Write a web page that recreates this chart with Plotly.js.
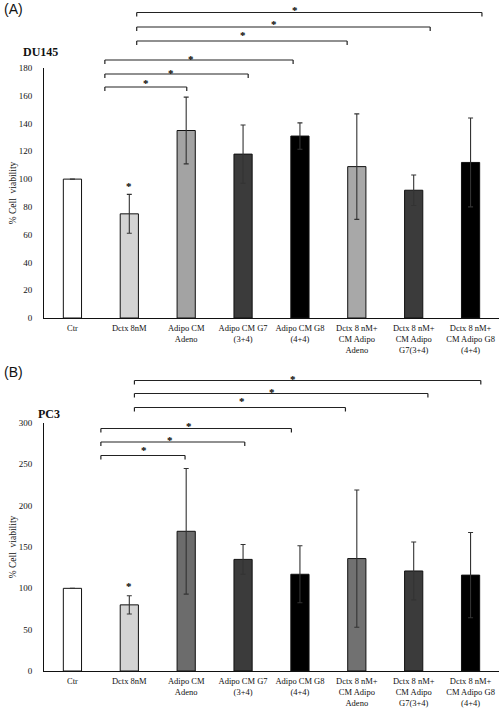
<!DOCTYPE html>
<html><head><meta charset="utf-8">
<script src="https://cdn.plot.ly/plotly-3.0.1.min.js"></script>
<style>html,body{margin:0;padding:0;background:#fff}#chart{width:500px;height:709px}</style>
</head><body><div id="chart"></div>
<script>
// ---- data ----
const categories = [
  "Ctr",
  "Dctx 8nM",
  "Adipo CM<br>Adeno",
  "Adipo CM G7<br>(3+4)",
  "Adipo CM G8<br>(4+4)",
  "Dctx 8 nM+<br>CM Adipo<br>Adeno",
  "Dctx 8 nM+<br>CM Adipo<br>G7(3+4)",
  "Dctx 8 nM+<br>CM Adipo G8<br>(4+4)"
];
const du145Values = [100, 75, 135, 118, 131, 109, 92, 112];
const du145Errors = [0, 14, 24, 21, 9.5, 38, 11, 32];
const pc3Values = [100, 80, 169, 135, 117, 136, 121, 116];
const pc3Errors = [0, 11, 76, 18, 34.5, 83, 35, 51.5];
const du145Ticks = [0, 20, 40, 60, 80, 100, 120, 140, 160, 180];
const pc3Ticks = [0, 50, 100, 150, 200, 250, 300];
const panelNames = ["DU145", "PC3"];
const panelLetters = ["(A)", "(B)"];
const yTitle = "% Cell  viability";
// significance brackets: comparison of Dctx 8nM (index 1) vs groups
const sigFrom = [1, 1, 1, 1, 1, 1];
const sigTo = [2, 3, 4, 5, 6, 7];

// ---- styles / geometry ----
const W = 500, H = 709, ML = 44, MR = 1, MT = 68, MB = 38;
const PW = W - ML - MR, PH = H - MT - MB;
const topBox = [68, 318], botBox = [423, 671];
const py = y => (H - MB - y) / PH;             // pixel y -> paper
const dom = b => [py(b[1]), py(b[0])];
const catDom = c => (c + 0.5) / categories.length;

const topColors = ["#ffffff", "#d4d4d4", "#a3a3a3", "#3b3b3b", "#000000", "#a8a8a8", "#3b3b3b", "#000000"];
const botColors = ["#ffffff", "#d4d4d4", "#6c6c6c", "#3b3b3b", "#000000", "#717171", "#3b3b3b", "#000000"];
const serif = "Liberation Serif, Times New Roman, serif";

// bracket drawing positions (category units, pixel heights)
const bracketStyle = {
  top: {
    left: [0.57, 0.57, 0.57, 1.13, 1.13, 1.13],
    right: [2.01, 3.09, 3.88, 4.83, 6.29, 7.20],
    y: [87, 74, 60, 41, 27, 12.5],
    starX: [146, 171, 190.7, 243, 274, 295],
    starY: [80, 70, 56, 32, 21, 7.3]
  },
  bot: {
    left: [0.50, 0.50, 0.50, 1.09, 1.09, 1.09],
    right: [1.98, 3.03, 3.85, 4.80, 6.25, 7.18],
    y: [455.5, 442, 428.5, 407.5, 393.5, 380.5],
    starX: [143.5, 169.5, 188.5, 242.3, 272.3, 293.3],
    starY: [447.3, 436.7, 423, 398.3, 389, 375.7]
  }
};

function barTrace(vals, errs, colors, xa, ya) {
  return {
    type: "bar", x: categories, y: vals, xaxis: xa, yaxis: ya,
    width: 0.32,
    marker: {color: colors, line: {color: "#111", width: 1}},
    error_y: {type: "data", array: errs, visible: true, color: "#333", thickness: 1.1, width: 2.5},
    hoverinfo: "x+y", showlegend: false
  };
}

const data = [
  barTrace(du145Values, du145Errors, topColors, "x", "y"),
  barTrace(pc3Values, pc3Errors, botColors, "x2", "y2")
];

const tickFont = {family: serif, size: 8.5, color: "#111"};
function xAxis(anchor) {
  return {
    type: "category", range: [-0.5, categories.length - 0.5], anchor: anchor,
    showline: true, linecolor: "#111", linewidth: 1, ticks: "", showgrid: false,
    zeroline: false, tickfont: tickFont, ticklabelstandoff: 2, automargin: false,
    fixedrange: true, tickangle: 0
  };
}
function yAxis(anchor, domain, range, ticks) {
  return {
    domain: domain, range: range, anchor: anchor, tickvals: ticks,
    showline: true, linecolor: "#111", linewidth: 1, ticks: "", showgrid: false,
    zeroline: false, tickfont: {family: serif, size: 9, color: "#111"}, ticklabelstandoff: 9, automargin: false,
    title: {text: yTitle, font: {family: serif, size: 9.5, color: "#111"}, standoff: 0},
    fixedrange: true
  };
}

const shapes = [];
const annotations = [];
const tick = 4 / PH;
function addBrackets(st, xref) {
  for (let i = 0; i < sigFrom.length; i++) {
    const x1 = catDom(st.left[i]), x2 = catDom(st.right[i]), y = py(st.y[i]);
    const line = {color: "#222", width: 1.2};
    shapes.push({type: "line", xref: xref + " domain", yref: "paper", x0: x1, x1: x2, y0: y, y1: y, line});
    shapes.push({type: "line", xref: xref + " domain", yref: "paper", x0: x1, x1: x1, y0: y, y1: y - tick, line});
    shapes.push({type: "line", xref: xref + " domain", yref: "paper", x0: x2, x1: x2, y0: y, y1: y - tick, line});
    annotations.push({
      text: "<b>*</b>", xref: "paper", yref: "paper", x: (st.starX[i] - ML) / PW, y: py(st.starY[i] + 3),
      xanchor: "center", yanchor: "middle", showarrow: false,
      font: {family: serif, size: 11, color: "#000"}
    });
  }
}
addBrackets(bracketStyle.top, "x");
addBrackets(bracketStyle.bot, "x2");

// star above the Dctx bar
annotations.push({text: "<b>*</b>", xref: "x", yref: "y", x: categories[1], y: du145Values[1] + du145Errors[1],
  yanchor: "bottom", yshift: 0, showarrow: false, font: {family: serif, size: 11, color: "#000"}});
annotations.push({text: "<b>*</b>", xref: "x2", yref: "y2", x: categories[1], y: pc3Values[1] + pc3Errors[1],
  yanchor: "bottom", yshift: 2, showarrow: false, font: {family: serif, size: 11, color: "#000"}});

// panel letters and cell-line names
annotations.push({text: panelLetters[0], xref: "paper", yref: "paper", x: (2 - ML) / PW, y: py(9),
  xanchor: "left", yanchor: "middle", showarrow: false, font: {family: "Liberation Sans, Arial, sans-serif", size: 14, color: "#111"}});
annotations.push({text: panelLetters[1], xref: "paper", yref: "paper", x: (2 - ML) / PW, y: py(372),
  xanchor: "left", yanchor: "middle", showarrow: false, font: {family: "Liberation Sans, Arial, sans-serif", size: 14, color: "#111"}});
annotations.push({text: "<b>" + panelNames[0] + "</b>", xref: "paper", yref: "paper", x: (21 - ML) / PW, y: py(52),
  xanchor: "left", yanchor: "middle", showarrow: false, font: {family: serif, size: 12, color: "#111"}});
annotations.push({text: "<b>" + panelNames[1] + "</b>", xref: "paper", yref: "paper", x: (36 - ML) / PW, y: py(414),
  xanchor: "left", yanchor: "middle", showarrow: false, font: {family: serif, size: 12, color: "#111"}});

const layout = {
  width: W, height: H,
  margin: {l: ML, r: MR, t: MT, b: MB, pad: 0},
  paper_bgcolor: "#fff", plot_bgcolor: "#fff",
  showlegend: false, bargap: 0.68,
  xaxis: xAxis("y"),
  yaxis: yAxis("x", dom(topBox), [0, 180], du145Ticks),
  xaxis2: xAxis("y2"),
  yaxis2: yAxis("x2", dom(botBox), [0, 300], pc3Ticks),
  shapes: shapes,
  annotations: annotations
};

Plotly.newPlot("chart", data, layout, {displayModeBar: false, staticPlot: true});
</script>
</body></html>
